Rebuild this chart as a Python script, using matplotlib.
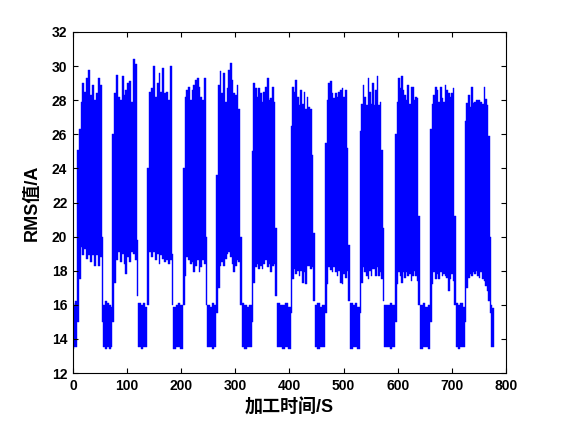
import numpy as np
import matplotlib
matplotlib.use('Agg')
import matplotlib.pyplot as plt

# machining bursts: time span [s] and upper / lower envelope of the RMS signal [A]
burst_start = [7, 73, 137.6, 203, 265, 330, 402, 465.6, 530, 595, 660, 724]
burst_end = [56.4, 121, 185.7, 248.5, 312, 377, 447, 512, 575.5, 641, 707.6, 773]
burst_top = [
    [25.1, 26.3, 27.9, 29.0, 28.5, 29.3, 29.8, 28.3, 28.9, 28.0, 28.4, 29.3, 28.9, 20.0],
    [26.0, 28.4, 29.5, 28.2, 28.0, 29.4, 28.3, 28.6, 29.0, 29.1, 27.9, 30.4, 30.1, 19.8],
    [24.0, 28.5, 28.7, 30.0, 28.2, 29.0, 29.6, 28.5, 29.9, 28.4, 28.5, 28.0, 30.0, 19.0],
    [24.0, 28.2, 28.6, 28.8, 28.0, 28.6, 28.9, 29.2, 29.3, 28.8, 28.2, 28.0, 29.3, 20.0],
    [23.6, 28.9, 29.7, 28.4, 29.6, 27.9, 28.7, 29.8, 30.2, 29.2, 28.4, 28.3, 28.9, 27.5, 20.0],
    [25.0, 29.0, 28.7, 28.2, 28.7, 28.4, 27.9, 28.5, 28.8, 29.3, 28.0, 28.1, 28.8, 27.9, 20.5],
    [26.5, 28.8, 28.5, 29.2, 28.2, 27.7, 28.6, 27.8, 28.5, 27.5, 28.2, 27.6, 27.5, 24.8, 20.2],
    [25.5, 28.0, 29.0, 29.1, 28.4, 28.1, 28.4, 28.2, 28.5, 28.6, 28.7, 28.2, 28.6, 25.2, 19.5],
    [26.2, 27.8, 28.9, 28.2, 27.7, 29.3, 28.5, 27.8, 29.0, 27.7, 28.6, 29.4, 27.7, 27.9, 25.1, 20.5],
    [26.0, 27.9, 29.3, 28.7, 29.4, 28.6, 28.3, 28.0, 28.9, 27.8, 28.8, 28.8, 28.0, 28.2, 28.1, 21.2],
    [26.3, 27.8, 28.3, 28.8, 28.6, 27.9, 28.8, 28.1, 27.9, 28.9, 28.6, 28.4, 28.2, 28.4, 28.7, 21.2],
    [26.8, 27.85, 28.3, 27.6, 28.75, 27.85, 27.9, 28.0, 28.0, 28.0, 27.9, 27.8, 28.75, 28.05, 27.7, 25.9, 20.0],
]
burst_bottom = [
    [15.0, 17.5, 19.4, 18.9, 19.3, 18.7, 18.9, 18.5, 18.9, 18.3, 18.9, 18.3, 18.8, 15.0],
    [15.0, 17.3, 18.6, 19.1, 18.5, 19.0, 18.4, 17.8, 18.8, 18.5, 19.1, 19.0, 18.6, 16.5],
    [16.0, 19.1, 18.8, 19.1, 18.6, 19.0, 18.4, 18.9, 18.7, 18.5, 18.6, 18.4, 18.6, 16.0],
    [16.0, 17.7, 18.8, 18.6, 18.4, 18.5, 17.9, 18.3, 18.6, 17.9, 18.2, 18.6, 18.4, 16.0],
    [15.5, 17.0, 18.3, 18.5, 18.3, 18.7, 19.0, 19.1, 18.8, 18.4, 17.95, 18.3, 18.6, 18.5, 16.0],
    [15.0, 17.3, 18.2, 18.4, 18.1, 18.3, 18.1, 18.4, 18.6, 18.2, 18.4, 17.9, 18.3, 18.4, 16.5],
    [15.5, 17.5, 18.1, 17.8, 18.0, 17.7, 18.0, 17.3, 17.9, 17.2, 18.25, 18.3, 18.1, 18.2, 16.2],
    [15.5, 17.2, 18.2, 18.05, 17.9, 18.2, 17.9, 17.7, 18.0, 17.3, 17.2, 17.8, 17.6, 18.0, 16.2],
    [15.5, 17.3, 18.2, 17.9, 17.7, 17.5, 18.0, 17.7, 18.1, 18.1, 17.7, 18.2, 17.7, 17.9, 17.5, 16.2],
    [15.0, 17.2, 17.9, 17.7, 17.3, 17.9, 17.6, 17.9, 17.7, 17.8, 17.4, 17.7, 18.0, 17.7, 17.4, 16.0],
    [15.0, 17.2, 17.9, 17.5, 17.8, 17.5, 17.9, 17.7, 17.8, 17.7, 17.6, 16.8, 17.5, 17.8, 17.4, 16.0],
    [15.0, 17.0, 17.6, 17.8, 17.7, 17.9, 17.8, 18.0, 17.7, 17.6, 17.9, 17.5, 17.4, 17.1, 16.8, 16.2, 15.5],
]
# idle phases (before, between and after the bursts)
t_end = 777
idle_top = [
    [16.1, 16.0, 16.2],
    [16.0, 16.2, 16.1, 16.0, 15.9],
    [16.1, 16.0, 16.1, 15.9],
    [15.9, 16.0, 16.1, 16.0],
    [16.0, 15.9, 16.1, 16.0],
    [16.1, 16.0, 15.9, 16.0],
    [16.1, 16.0, 16.0, 16.1, 15.9],
    [16.0, 16.1, 15.9, 16.0],
    [16.1, 16.0, 16.1, 15.9],
    [16.0, 16.0, 16.1, 16.0],
    [16.0, 16.1, 15.9, 16.0],
    [16.1, 16.0, 16.1, 15.9],
    [16.0, 15.8],
]
idle_bottom = [
    [13.4, 13.5, 13.5],
    [13.5, 13.4, 13.5, 13.4, 13.5],
    [13.5, 13.4, 13.5, 13.5],
    [13.4, 13.5, 13.5, 13.4],
    [13.5, 13.5, 13.4, 13.5],
    [13.5, 13.4, 13.5, 13.5],
    [13.5, 13.5, 13.4, 13.5, 13.4],
    [13.5, 13.4, 13.5, 13.5],
    [13.4, 13.5, 13.5, 13.4],
    [13.5, 13.5, 13.4, 13.5],
    [13.4, 13.5, 13.5, 13.4],
    [13.5, 13.4, 13.5, 13.5],
    [13.5, 13.5],
]

plt.rcParams['font.family'] = ['Liberation Sans', 'Noto Sans CJK SC']
plt.rcParams['font.weight'] = 'bold'

fig = plt.figure(figsize=(5.61, 4.21), dpi=100)
ax = fig.add_axes([0.130, 0.114, 0.772, 0.810])

blue = (0, 0, 1)


def draw_band(start, end, top, bot):
    """Fill the dense signal band between lower and upper envelope as steps."""
    edges = np.linspace(start, end, len(top) + 1)
    hi = np.append(top, top[-1])
    lo = np.append(bot, bot[-1])
    ax.fill_between(edges, lo, hi, step='post', facecolor=blue,
                    edgecolor=blue, lw=0.3)


idle_start = [0] + burst_end
idle_end = burst_start + [t_end]
for s, e, top, bot in zip(idle_start, idle_end, idle_top, idle_bottom):
    draw_band(s, e, top, bot)
for s, e, top, bot in zip(burst_start, burst_end, burst_top, burst_bottom):
    draw_band(s, e, top, bot)

ax.set_xlim(0, 800)
ax.set_ylim(12, 32)
ax.set_xticks(np.arange(0, 801, 100))
ax.set_yticks(np.arange(12, 33, 2))
ax.tick_params(direction='in', top=True, right=True, length=3.6, width=0.8,
               labelsize=10, pad=4)
for lab in ax.get_xticklabels() + ax.get_yticklabels():
    lab.set_fontweight('bold')
for sp in ax.spines.values():
    sp.set_linewidth(0.8)

ax.set_xlabel('加工时间/S', fontsize=13, fontweight='bold', labelpad=4)
ax.set_ylabel('RMS值/A', fontsize=13, fontweight='bold', labelpad=8)

fig.savefig('out.png', dpi=100)
